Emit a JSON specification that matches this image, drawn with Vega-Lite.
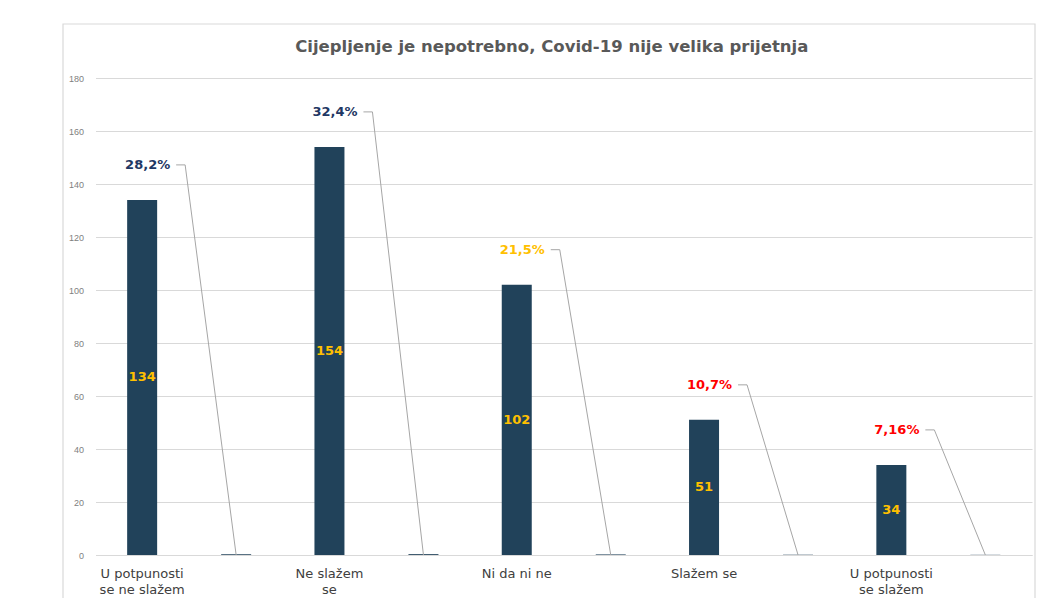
{
  "$schema": "https://vega.github.io/schema/vega-lite/v6.json",
  "autosize": {"type": "none"},
  "width": 936.5,
  "height": 477,
  "padding": {"left": 95.5, "top": 78, "right": 28, "bottom": 43},
  "background": "white",
  "config": {
    "view": {"stroke": null},
    "locale": {"number": {"decimal": ",", "thousands": ".", "grouping": [3], "currency": ["", " €"]}}
  },
  "title": {
    "text": "Cijepljenje je nepotrebno, Covid-19 nije velika prijetnja",
    "font": "DejaVu Sans",
    "fontSize": 16.5,
    "fontWeight": "bold",
    "color": "#595959",
    "anchor": "middle",
    "offset": -32,
    "dx": -12
  },
  "data": {
    "values": [
      {"odgovor": "U potpunosti se ne slažem", "broj": 134, "udio": 0.282},
      {"odgovor": "Ne slažem se", "broj": 154, "udio": 0.324},
      {"odgovor": "Ni da ni ne", "broj": 102, "udio": 0.215},
      {"odgovor": "Slažem se", "broj": 51, "udio": 0.107},
      {"odgovor": "U potpunosti se slažem", "broj": 34, "udio": 0.0716}
    ]
  },
  "layer": [
    {
      "layer": [
        {
          "data": {"values": [{}]},
          "mark": {"type": "rect", "fill": null, "fillOpacity": 0, "stroke": "#d9d9d9", "strokeWidth": 1.2, "xOffset": -32.5, "x2Offset": 3, "yOffset": -54, "y2Offset": 70, "clip": false},
          "encoding": {
            "x": {"value": 0},
            "x2": {"value": "width"},
            "y": {"value": 0},
            "y2": {"value": "height"}
          }
        },
        {
          "mark": {"type": "bar", "width": 30, "xOffset": -47, "color": "#21425a"},
          "encoding": {
            "x": {
              "field": "odgovor", "type": "nominal", "sort": null,
              "scale": {"paddingInner": 0, "paddingOuter": 0},
              "axis": {
                "title": null,
                "domain": true, "domainColor": "#d9d9d9", "domainWidth": 1.2,
                "ticks": false,
                "labelAngle": 0,
                "labelOffset": -47,
                "labelPadding": 12,
                "labelBaseline": "top",
                "labelFont": "DejaVu Sans",
                "labelFontSize": 13,
                "labelColor": "#404040",
                "labelLineHeight": 16,
                "labelLimit": 200,
                "labelExpr": "datum.value == 'U potpunosti se ne slažem' ? ['U potpunosti', 'se ne slažem'] : datum.value == 'Ne slažem se' ? ['Ne slažem', 'se'] : datum.value == 'U potpunosti se slažem' ? ['U potpunosti', 'se slažem'] : datum.label"
              }
            },
            "y": {
              "field": "broj", "type": "quantitative",
              "scale": {"domain": [0, 180], "nice": false},
              "axis": {
                "title": null,
                "values": [0, 20, 40, 60, 80, 100, 120, 140, 160, 180],
                "domain": false, "ticks": false,
                "gridColor": "#d9d9d9", "gridWidth": 1.2,
                "labelFont": "Liberation Sans", "labelFontSize": 9, "labelColor": "#808080",
                "labelPadding": 12
              }
            }
          }
        },
        {
          "mark": {"type": "bar", "width": 30, "xOffset": 47, "color": "#21425a"},
          "encoding": {
            "x": {"field": "odgovor", "type": "nominal", "sort": null},
            "y": {"field": "udio", "type": "quantitative"}
          }
        },
        {
          "mark": {"type": "rule", "color": "#a6a6a6", "strokeWidth": 1, "xOffset": -13, "x2Offset": -4, "yOffset": -35},
          "encoding": {
            "x": {"field": "odgovor", "type": "nominal", "sort": null},
            "x2": {"field": "odgovor"},
            "y": {"field": "broj", "type": "quantitative"}
          }
        },
        {
          "mark": {"type": "rule", "color": "#a6a6a6", "strokeWidth": 1, "xOffset": -4, "x2Offset": 47, "yOffset": -35},
          "encoding": {
            "x": {"field": "odgovor", "type": "nominal", "sort": null},
            "x2": {"field": "odgovor"},
            "y": {"field": "broj", "type": "quantitative"},
            "y2": {"datum": 0}
          }
        },
        {
          "mark": {"type": "text", "font": "DejaVu Sans", "fontSize": 13, "fontWeight": "bold", "align": "center", "baseline": "middle", "xOffset": -41.5, "yOffset": -35},
          "encoding": {
            "x": {"field": "odgovor", "type": "nominal", "sort": null},
            "y": {"field": "broj", "type": "quantitative"},
            "text": {"field": "udio", "type": "quantitative", "format": ".3p"},
            "color": {
              "field": "odgovor", "type": "nominal",
              "scale": {
                "domain": ["U potpunosti se ne slažem", "Ne slažem se", "Ni da ni ne", "Slažem se", "U potpunosti se slažem"],
                "range": ["#1f3864", "#1f3864", "#ffc000", "#ff0000", "#ff0000"]
              },
              "legend": null
            }
          }
        }
      ]
    },
    {
      "mark": {"type": "text", "font": "DejaVu Sans", "fontSize": 13, "fontWeight": "bold", "align": "center", "baseline": "middle", "xOffset": -47, "color": "#ffc000"},
      "encoding": {
        "x": {"field": "odgovor", "type": "nominal", "sort": null},
        "y": {"field": "broj", "type": "quantitative", "scale": {"domain": [0, 360], "nice": false}, "axis": null},
        "text": {"field": "broj", "type": "quantitative"}
      }
    }
  ],
  "resolve": {"scale": {"y": "independent"}}
}
